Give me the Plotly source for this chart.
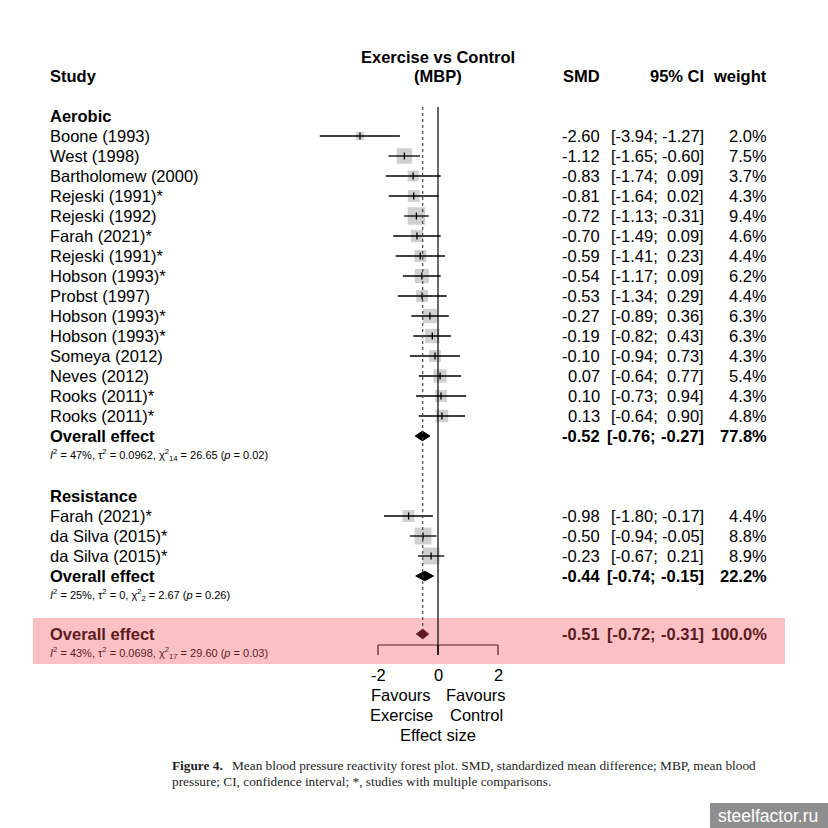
import plotly.graph_objects as go

# ---------------- data ----------------
aer_names = ["Boone (1993)", "West (1998)", "Bartholomew (2000)", "Rejeski (1991)*", "Rejeski (1992)",
             "Farah (2021)*", "Rejeski (1991)*", "Hobson (1993)*", "Probst (1997)", "Hobson (1993)*",
             "Hobson (1993)*", "Someya (2012)", "Neves (2012)", "Rooks (2011)*", "Rooks (2011)*"]
aer_smd = [-2.60, -1.12, -0.83, -0.81, -0.72, -0.70, -0.59, -0.54, -0.53, -0.27, -0.19, -0.10, 0.07, 0.10, 0.13]
aer_lo = [-3.94, -1.65, -1.74, -1.64, -1.13, -1.49, -1.41, -1.17, -1.34, -0.89, -0.82, -0.94, -0.64, -0.73, -0.64]
aer_hi = [-1.27, -0.60, 0.09, 0.02, -0.31, 0.09, 0.23, 0.09, 0.29, 0.36, 0.43, 0.73, 0.77, 0.94, 0.90]
aer_w = [2.0, 7.5, 3.7, 4.3, 9.4, 4.6, 4.4, 6.2, 4.4, 6.3, 6.3, 4.3, 5.4, 4.3, 4.8]

res_names = ["Farah (2021)*", "da Silva (2015)*", "da Silva (2015)*"]
res_smd = [-0.98, -0.50, -0.23]
res_lo = [-1.80, -0.94, -0.67]
res_hi = [-0.17, -0.05, 0.21]
res_w = [4.4, 8.8, 8.9]

aer_overall = (-0.52, -0.76, -0.27, 77.8)
res_overall = (-0.44, -0.74, -0.15, 22.2)
tot_overall = (-0.51, -0.72, -0.31, 100.0)

aer_het = "<i>I</i><sup>2</sup> = 47%, τ<sup>2</sup> = 0.0962, χ<sup>2</sup><sub>14</sub> = 26.65 (<i>p</i> = 0.02)"
res_het = "<i>I</i><sup>2</sup> = 25%, τ<sup>2</sup> = 0, χ<sup>2</sup><sub>2</sub> = 2.67 (<i>p</i> = 0.26)"
tot_het = "<i>I</i><sup>2</sup> = 43%, τ<sup>2</sup> = 0.0698, χ<sup>2</sup><sub>17</sub> = 29.60 (<i>p</i> = 0.03)"

axis_ticks = [-2, 0, 2]
caption_lead = "Figure 4."
caption1 = "Mean blood pressure reactivity forest plot. SMD, standardized mean difference; MBP, mean blood"
caption2 = "pressure; CI, confidence interval; *, studies with multiple comparisons."

# ---------------- layout helpers ----------------
W = H = 828
FONT = "Liberation Sans, Arial, sans-serif"
FS = 16.5
MAROON = "rgb(92,26,32)"

def px(xp):
    return xp / W

aer_rows = list(range(0, len(aer_names)))
aer_ov_row = 15
res_head_row = 18
res_rows = [19, 20, 21]
res_ov_row = 22
tot_row = 24.9

fig = go.Figure()
annotations = []
shapes = []

def txt(x, y, s, anchor="left", size=FS, bold=False, color="black", family=FONT):
    annotations.append(dict(x=px(x), xref="paper", y=y, yref="y", text=s, showarrow=False,
                            xanchor=anchor, yanchor="middle",
                            font=dict(size=size, color=color, family=family,
                                      weight="bold" if bold else "normal")))

def row_values(r, smd, lo, hi, w, bold=False, color="black"):
    txt(602, r, f"{smd:.2f}", "right", bold=bold, color=color)
    txt(605 if bold else 609, r, f"[{lo:.2f};", "left", bold=bold, color=color)
    txt(706, r, f"{hi:.2f}]", "right", bold=bold, color=color)
    txt(769, r, f"{w:.1f}%", "right", bold=bold, color=color)

# shaded overall band
shapes.append(dict(type="rect", xref="paper", yref="y", x0=px(33), x1=px(785), y0=24.1, y1=26.4,
                   fillcolor="rgb(250,193,197)", line=dict(width=0), layer="below"))

# reference lines
shapes.append(dict(type="line", xref="x", yref="y", x0=0, x1=0, y0=-1.45, y1=25.95,
                   line=dict(color="black", width=1.2)))
shapes.append(dict(type="line", xref="x", yref="y", x0=tot_overall[0], x1=tot_overall[0], y0=-1.45, y1=24.6,
                   line=dict(color="rgb(70,70,70)", width=1.2, dash="dot")))

# bracket axis
shapes.append(dict(type="line", xref="x", yref="y", x0=min(axis_ticks), x1=max(axis_ticks), y0=25.45, y1=25.45,
                   line=dict(color=MAROON, width=1.2)))
for t in axis_ticks:
    shapes.append(dict(type="line", xref="x", yref="y", x0=t, x1=t, y0=25.45, y1=25.95,
                       line=dict(color=MAROON if t != 0 else "black", width=1.2)))
    annotations.append(dict(x=t, xref="x", y=26.95, yref="y", text=("-" if t < 0 else "") + str(abs(t)),
                            showarrow=False, xanchor="center", yanchor="middle",
                            font=dict(size=FS, family=FONT, color="black")))

# study squares + CI lines
all_rows = aer_rows + res_rows
all_smd = aer_smd + res_smd
all_lo = aer_lo + res_lo
all_hi = aer_hi + res_hi
all_w = aer_w + res_w

fig.add_trace(go.Scatter(x=all_smd, y=all_rows, mode="markers",
                         marker=dict(symbol="square", color="rgb(188,188,188)",
                                     size=[5.7 * w ** 0.5 for w in all_w], line=dict(width=0)),
                         hoverinfo="skip"))
ci_x, ci_y = [], []
for r, lo, hi in zip(all_rows, all_lo, all_hi):
    ci_x += [lo, hi, None]
    ci_y += [r, r, None]
fig.add_trace(go.Scatter(x=ci_x, y=ci_y, mode="lines", line=dict(color="black", width=1.3), hoverinfo="skip"))
fig.add_trace(go.Scatter(x=all_smd, y=all_rows, mode="markers",
                         marker=dict(symbol="line-ns", size=5, line=dict(color="black", width=1.3)),
                         hoverinfo="skip"))

# diamonds
def diamond(r, est, lo, hi, color, h=0.24):
    fig.add_trace(go.Scatter(x=[lo, est, hi, est, lo], y=[r, r - h, r, r + h, r], mode="lines",
                             fill="toself", fillcolor=color, line=dict(color=color, width=1),
                             hoverinfo="skip"))

diamond(aer_ov_row, aer_overall[0], aer_overall[1], aer_overall[2], "black")
diamond(res_ov_row, res_overall[0], res_overall[1], res_overall[2], "black")
diamond(tot_row, tot_overall[0], tot_overall[1], tot_overall[2], MAROON)

# headers
txt(438, -3.95, "Exercise vs Control", "center", bold=True)
txt(438, -3.0, "(MBP)", "center", bold=True)
txt(48, -3.0, "Study", bold=True)
txt(602, -3.0, "SMD", "right", bold=True)
txt(706, -3.0, "95% CI", "right", bold=True)
txt(769, -3.0, "weight", "right", bold=True)

# aerobic
txt(48, -1, "Aerobic", bold=True)
for r, n, s, lo, hi, w in zip(aer_rows, aer_names, aer_smd, aer_lo, aer_hi, aer_w):
    txt(48, r, n)
    row_values(r, s, lo, hi, w)
txt(48, aer_ov_row, "Overall effect", bold=True)
row_values(aer_ov_row, *aer_overall, bold=True)
txt(48, 15.95, aer_het, size=11)

# resistance
txt(48, res_head_row, "Resistance", bold=True)
for r, n, s, lo, hi, w in zip(res_rows, res_names, res_smd, res_lo, res_hi, res_w):
    txt(48, r, n)
    row_values(r, s, lo, hi, w)
txt(48, res_ov_row, "Overall effect", bold=True)
row_values(res_ov_row, *res_overall, bold=True)
txt(48, 22.95, res_het, size=11)

# total
txt(48, tot_row, "Overall effect", bold=True, color=MAROON)
row_values(tot_row, *tot_overall, bold=True, color=MAROON)
txt(48, 25.85, tot_het, size=11, color=MAROON)

# axis captions
txt(401, 27.95, "Favours", "center")
txt(476, 27.95, "Favours", "center")
txt(401, 28.95, "Exercise", "center")
txt(476, 28.95, "Control", "center")
txt(438, 29.95, "Effect size", "center")

# figure caption
SERIF = "Liberation Serif, Times New Roman, serif"
txt(170, 31.45, caption_lead, size=13.3, bold=True, color="rgb(30,30,30)", family=SERIF)
txt(230, 31.45, caption1, size=13.3, color="rgb(30,30,30)", family=SERIF)
txt(170, 32.25, caption2, size=13.3, color="rgb(30,30,30)", family=SERIF)

# watermark
shapes.append(dict(type="rect", xref="paper", yref="paper", x0=px(710), x1=1.0, y0=0, y1=(828 - 803) / 828,
                   fillcolor="rgb(142,142,142)", line=dict(width=0), layer="above"))
annotations.append(dict(x=px(768), xref="paper", y=(828 - 815.5) / 828, yref="paper", text="steelfactor.ru",
                        showarrow=False, xanchor="center", yanchor="middle",
                        font=dict(size=17.5, color="white", family=FONT)))

fig.update_layout(
    width=W, height=H, margin=dict(l=0, r=0, t=0, b=0),
    paper_bgcolor="white", plot_bgcolor="white", showlegend=False,
    xaxis=dict(range=[-438 / 30, (828 - 438) / 30], visible=False, fixedrange=True),
    yaxis=dict(range=[(828 - 136) / 20, (0 - 136) / 20], visible=False, fixedrange=True),
    shapes=shapes, annotations=annotations,
)

fig.write_html("out.html", config={"displayModeBar": False},
               post_script="document.body.style.margin='0';document.body.style.overflow='hidden';")
